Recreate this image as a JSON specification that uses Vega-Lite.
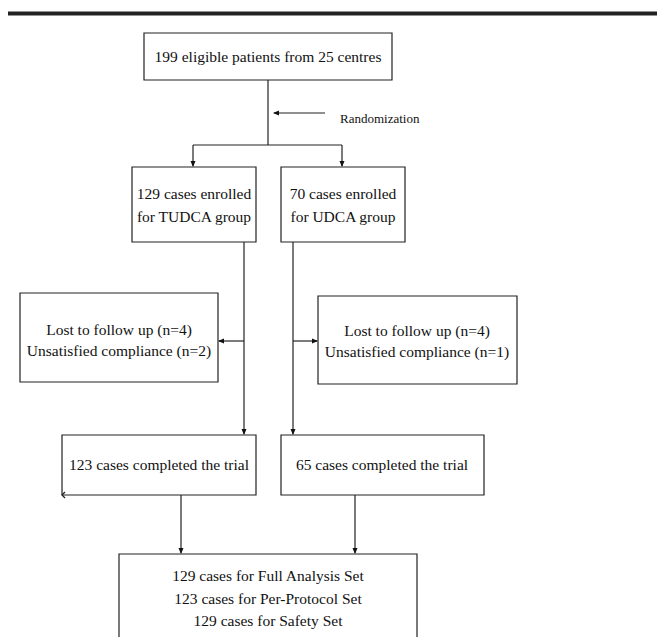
{
  "$schema": "https://vega.github.io/schema/vega-lite/v6.json",
  "width": 657,
  "height": 637,
  "padding": 0,
  "autosize": {"type": "none"},
  "config": {"view": {"stroke": null}, "background": "white"},
  "datasets": {
    "boxes": [
      {"x": 144, "x2": 392, "y": 33, "y2": 80},
      {"x": 132, "x2": 256, "y": 167, "y2": 242},
      {"x": 281, "x2": 405, "y": 167, "y2": 242},
      {"x": 20, "x2": 218, "y": 293, "y2": 382},
      {"x": 318, "x2": 517, "y": 296, "y2": 384},
      {"x": 62, "x2": 256, "y": 435, "y2": 495},
      {"x": 281, "x2": 484, "y": 435, "y2": 495},
      {"x": 119, "x2": 417, "y": 554, "y2": 645}
    ],
    "lines": [
      {"x": 268, "y": 80, "x2": 268, "y2": 145},
      {"x": 193, "y": 145, "x2": 342, "y2": 145},
      {"x": 193, "y": 145, "x2": 193, "y2": 166},
      {"x": 342, "y": 145, "x2": 342, "y2": 166},
      {"x": 325, "y": 113, "x2": 274, "y2": 113},
      {"x": 244, "y": 242, "x2": 244, "y2": 434},
      {"x": 293, "y": 242, "x2": 293, "y2": 434},
      {"x": 244, "y": 341, "x2": 219, "y2": 341},
      {"x": 293, "y": 341, "x2": 317, "y2": 341},
      {"x": 181, "y": 495, "x2": 181, "y2": 553},
      {"x": 355, "y": 495, "x2": 355, "y2": 553},
      {"x": 62, "y": 495, "x2": 65, "y2": 492},
      {"x": 62, "y": 495, "x2": 65, "y2": 498}
    ],
    "arrows": [
      {"x": 193, "y": 167, "dir": "down"},
      {"x": 342, "y": 167, "dir": "down"},
      {"x": 273, "y": 113, "dir": "left"},
      {"x": 218, "y": 341, "dir": "left"},
      {"x": 318, "y": 341, "dir": "right"},
      {"x": 244, "y": 435, "dir": "down"},
      {"x": 293, "y": 435, "dir": "down"},
      {"x": 181, "y": 554, "dir": "down"},
      {"x": 355, "y": 554, "dir": "down"}
    ],
    "texts": [
      {"x": 268, "y": 57, "text": "199 eligible patients from 25 centres"},
      {"x": 194, "y": 194, "text": "129 cases enrolled"},
      {"x": 194, "y": 217, "text": "for TUDCA group"},
      {"x": 343, "y": 194, "text": "70 cases enrolled"},
      {"x": 343, "y": 217, "text": "for UDCA group"},
      {"x": 119, "y": 330, "text": "Lost to follow up (n=4)"},
      {"x": 119, "y": 351, "text": "Unsatisfied compliance (n=2)"},
      {"x": 417, "y": 331, "text": "Lost to follow up (n=4)"},
      {"x": 417, "y": 352, "text": "Unsatisfied compliance (n=1)"},
      {"x": 159, "y": 465, "text": "123 cases completed the trial"},
      {"x": 382, "y": 465, "text": "65 cases completed the trial"},
      {"x": 268, "y": 576, "text": "129 cases for Full Analysis Set"},
      {"x": 268, "y": 599, "text": "123 cases for Per-Protocol Set"},
      {"x": 268, "y": 621, "text": "129 cases for Safety Set"}
    ]
  },
  "layer": [
    {
      "data": {"values": [{"x": 8, "x2": 657, "y": 13.5}]},
      "mark": {"type": "rule", "strokeWidth": 4, "color": "#222"},
      "encoding": {
        "x": {"field": "x", "type": "quantitative", "scale": {"domain": [0, 657]}, "axis": null},
        "x2": {"field": "x2"},
        "y": {"field": "y", "type": "quantitative", "scale": {"domain": [0, 637], "reverse": true}, "axis": null}
      }
    },
    {
      "data": {"name": "boxes"},
      "mark": {"type": "rect", "fill": "white", "stroke": "#222", "strokeWidth": 1.2},
      "encoding": {
        "x": {"field": "x", "type": "quantitative", "scale": {"domain": [0, 657]}, "axis": null},
        "x2": {"field": "x2"},
        "y": {"field": "y", "type": "quantitative", "scale": {"domain": [0, 637], "reverse": true}, "axis": null},
        "y2": {"field": "y2"}
      }
    },
    {
      "data": {"name": "lines"},
      "mark": {"type": "rule", "color": "#222", "strokeWidth": 1.2},
      "encoding": {
        "x": {"field": "x", "type": "quantitative", "scale": {"domain": [0, 657]}, "axis": null},
        "x2": {"field": "x2"},
        "y": {"field": "y", "type": "quantitative", "scale": {"domain": [0, 637], "reverse": true}, "axis": null},
        "y2": {"field": "y2"}
      }
    },
    {
      "data": {"name": "arrows"},
      "mark": {"type": "point", "filled": true, "color": "#111", "size": 25, "opacity": 1},
      "encoding": {
        "x": {"field": "x", "type": "quantitative", "scale": {"domain": [0, 657]}, "axis": null},
        "y": {"field": "y", "type": "quantitative", "scale": {"domain": [0, 637], "reverse": true}, "axis": null},
        "shape": {
          "field": "dir", "type": "nominal", "legend": null,
          "scale": {
            "domain": ["down", "left", "right"],
            "range": ["M0,0L-1,-2.4L1,-2.4Z", "M0,0L2.4,-1L2.4,1Z", "M0,0L-2.4,-1L-2.4,1Z"]
          }
        }
      }
    },
    {
      "data": {"name": "texts"},
      "mark": {"type": "text", "font": "Liberation Serif", "fontSize": 15.5, "align": "center", "baseline": "middle", "color": "#111"},
      "encoding": {
        "x": {"field": "x", "type": "quantitative", "scale": {"domain": [0, 657]}, "axis": null},
        "y": {"field": "y", "type": "quantitative", "scale": {"domain": [0, 637], "reverse": true}, "axis": null},
        "text": {"field": "text"}
      }
    },
    {
      "data": {"values": [{"x": 340, "y": 119, "text": "Randomization"}]},
      "mark": {"type": "text", "font": "Liberation Serif", "fontSize": 13, "align": "left", "baseline": "middle", "color": "#111"},
      "encoding": {
        "x": {"field": "x", "type": "quantitative", "scale": {"domain": [0, 657]}, "axis": null},
        "y": {"field": "y", "type": "quantitative", "scale": {"domain": [0, 637], "reverse": true}, "axis": null},
        "text": {"field": "text"}
      }
    }
  ]
}
